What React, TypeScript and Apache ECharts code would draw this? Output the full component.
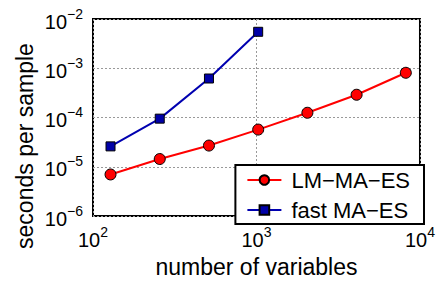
import React, { useEffect, useRef } from "react";
import * as echarts from "echarts";

const variables = [128, 256, 512, 1024, 2048, 4096, 8192];
const lmMaEs = [7.0e-6, 1.44e-5, 2.7e-5, 5.7e-5, 1.25e-4, 2.9e-4, 8.1e-4];
const fastMaEs = [2.6e-5, 9.5e-5, 6.2e-4, 5.5e-3];
const seriesNames = ["LM\u2212MA\u2212ES", "fast MA\u2212ES"];

const FONT = "'Liberation Sans', Arial, Helvetica, sans-serif";

function expLabel(v: number) {
  const e = Math.round(Math.log10(v));
  const s = e < 0 ? "\u2212" + Math.abs(e) : String(e);
  return "{b|10}{s|" + s + "}";
}

const richStyle = {
  b: { fontSize: 20, lineHeight: 25, verticalAlign: "bottom", fontFamily: FONT, color: "#000" },
  s: { fontSize: 14, lineHeight: 14, verticalAlign: "top", fontFamily: FONT, color: "#000" },
};

export default function App() {
  const ref = useRef<HTMLDivElement>(null);
  useEffect(() => {
    if (!ref.current) return;
    const chart = echarts.init(ref.current, null, { renderer: "svg" });
    chart.setOption({
      animation: false,
      backgroundColor: "#fff",
      textStyle: { fontFamily: FONT, color: "#000" },
      grid: {
        left: 93,
        right: 14,
        top: 19,
        bottom: 59,
        show: true,
        borderColor: "#000",
        borderWidth: 2,
        backgroundColor: "transparent",
      },
      xAxis: {
        type: "log",
        logBase: 10,
        min: 100,
        max: 10000,
        name: "number of variables",
        nameLocation: "middle",
        nameGap: 35,
        nameTextStyle: { fontSize: 23, fontFamily: FONT, color: "#000" },
        axisLine: { show: false },
        axisTick: { show: false },
        minorTick: { show: false },
        axisLabel: {
          margin: 9,
          formatter: (v: number) => expLabel(v),
          rich: richStyle,
        },
        splitLine: { show: true, lineStyle: { color: "#999", width: 1, type: [2, 2] } },
      },
      yAxis: {
        type: "log",
        logBase: 10,
        min: 1e-6,
        max: 1e-2,
        axisLine: { show: false },
        axisTick: { show: false },
        axisLabel: {
          margin: 10,
          formatter: (v: number) => expLabel(v),
          rich: richStyle,
        },
        splitLine: { show: true, lineStyle: { color: "#999", width: 1, type: [2, 2] } },
      },
      legend: {
        orient: "vertical",
        right: 14,
        bottom: 59,
        backgroundColor: "#fff",
        borderColor: "#000",
        borderWidth: 2,
        borderRadius: 0,
        padding: [4, 14, 3, 11],
        itemGap: 8,
        itemWidth: 34,
        itemHeight: 12,
        textStyle: { fontSize: 22, fontFamily: FONT, color: "#000", padding: [0, 0, 0, 5] },
        data: seriesNames,
      },
      graphic: [
        {
          type: "text",
          x: 25,
          y: 146,
          rotation: Math.PI / 2,
          style: {
            text: "seconds per sample",
            font: "23px " + FONT,
            fill: "#000",
            align: "center",
            verticalAlign: "middle",
          },
        },
      ],
      series: [
        {
          name: seriesNames[0],
          type: "line",
          data: variables.map((x, i) => [x, lmMaEs[i]]),
          symbol: "circle",
          symbolSize: 11,
          itemStyle: { color: "#ff0000", borderColor: "#000", borderWidth: 1 },
          lineStyle: { color: "#ff0000", width: 2 },
          z: 3,
        },
        {
          name: seriesNames[1],
          type: "line",
          data: variables.slice(0, fastMaEs.length).map((x, i) => [x, fastMaEs[i]]),
          symbol: "rect",
          symbolSize: 9,
          itemStyle: { color: "#0000a8", borderColor: "#000", borderWidth: 1 },
          lineStyle: { color: "#0000b0", width: 2 },
          z: 3,
        },
      ],
    });
    return () => chart.dispose();
  }, []);
  return (
    <div
      ref={ref}
      style={{ position: "fixed", left: 0, top: 0, width: 438, height: 283 }}
    />
  );
}
